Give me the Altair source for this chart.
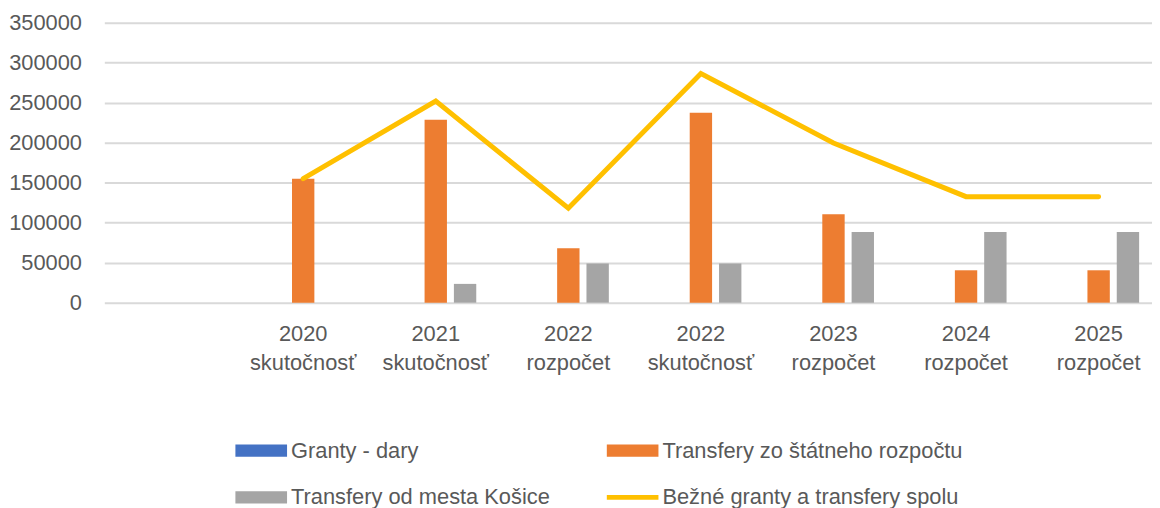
import altair as alt
import pandas as pd

# ---- data ----
years = ["", "2020", "2021", "2022", "2022", "2023", "2024", "2025"]
kinds = ["", "skutočnosť", "skutočnosť", "rozpočet", "skutočnosť", "rozpočet", "rozpočet", "rozpočet"]
granty_dary = [None, 0, 0, 0, 0, 0, 0, 0]
transfery_stat = [None, 155000, 228500, 68000, 237500, 110500, 40500, 40500]
transfery_mesto = [None, 0, 23500, 49000, 49000, 88500, 88500, 88500]
spolu = [None, 155000, 252000, 118000, 286500, 199500, 132500, 132500]

bar_series = ["Granty - dary", "Transfery zo štátneho rozpočtu", "Transfery od mesta Košice"]
line_series = "Bežné granty a transfery spolu"
# legend order (filled column by column): Granty, mesto | štát, spolu
legend_order = ["Granty - dary", "Transfery od mesta Košice",
                "Transfery zo štátneho rozpočtu", "Bežné granty a transfery spolu"]
legend_colors = ["#4472C4", "#A5A5A5", "#ED7D31", "#FFC000"]

cats = [f"{y} {k}" for y, k in zip(years, kinds)]

bar_rows = []
for i, c in enumerate(cats):
    for name, vals in zip(bar_series, [granty_dary, transfery_stat, transfery_mesto]):
        if vals[i] is not None:
            bar_rows.append({"cat": c, "series": name, "value": vals[i]})
line_rows = [
    {"cat": c, "series": line_series, "value": v}
    for c, v in zip(cats, spolu) if v is not None
]
bars_df = pd.DataFrame(bar_rows)
line_df = pd.DataFrame(line_rows)

FONT = "Liberation Sans"
TXT = "#595959"

x_enc = alt.X(
    "cat:N",
    sort=cats,
    scale=alt.Scale(domain=cats, range=[0, 1068], paddingInner=0.389, paddingOuter=0.1945),
    axis=alt.Axis(
        title=None,
        labelExpr="split(datum.label, ' ')",
        labelAngle=0,
        labelPadding=21,
        labelLineHeight=29,
        labelFont=FONT,
        labelFontSize=22,
        labelColor=TXT,
        ticks=False,
        domain=False,
        grid=False,
    ),
)
y_enc = alt.Y(
    "value:Q",
    scale=alt.Scale(domain=[0, 350000], nice=False),
    axis=alt.Axis(
        title=None,
        values=list(range(0, 350001, 50000)),
        format="d",
        labelPadding=23,
        labelFont=FONT,
        labelFontSize=22,
        labelColor=TXT,
        ticks=False,
        domain=False,
        gridColor="#D9D9D9",
        gridWidth=2,
    ),
)

legend = alt.Legend(
    title=None,
    orient="none",
    legendX=132,
    legendY=405,
    columns=2,
    columnPadding=57,
    rowPadding=10,
    symbolType={"expr": "datum.value == 'Bežné granty a transfery spolu' ? 'M-1,-0.09H1V0.09H-1Z' : 'M-1,-0.24H1V0.24H-1Z'"},
    symbolSize=2704,
    symbolStrokeWidth=0,
    labelOffset=4,
    labelLimit=500,
    labelFontSize=22,
    labelColor=TXT,
    labelFont=FONT,
)
color_enc = alt.Color(
    "series:N",
    scale=alt.Scale(domain=legend_order, range=legend_colors),
    sort=legend_order,
    legend=legend,
)

bars = alt.Chart(bars_df).mark_bar().encode(
    x=x_enc,
    xOffset=alt.XOffset(
        "series:N",
        sort=bar_series,
        scale=alt.Scale(domain=bar_series, paddingInner=0.237, paddingOuter=0),
    ),
    y=y_enc,
    color=color_enc,
)

line = alt.Chart(line_df).mark_line(strokeWidth=5, strokeCap="round", strokeJoin="miter").encode(
    x=x_enc,
    y=y_enc,
    color=color_enc,
)

chart = (
    alt.layer(bars, line)
    .properties(
        width=1055,
        height=282,
        autosize=alt.AutoSizeParams(type="none"),
        padding={"left": 97, "top": 13, "right": 0, "bottom": 205},
        background="white",
    )
    .configure_view(stroke=None)
)

chart.save("out.html", embed_options={"renderer": "svg", "actions": False})
